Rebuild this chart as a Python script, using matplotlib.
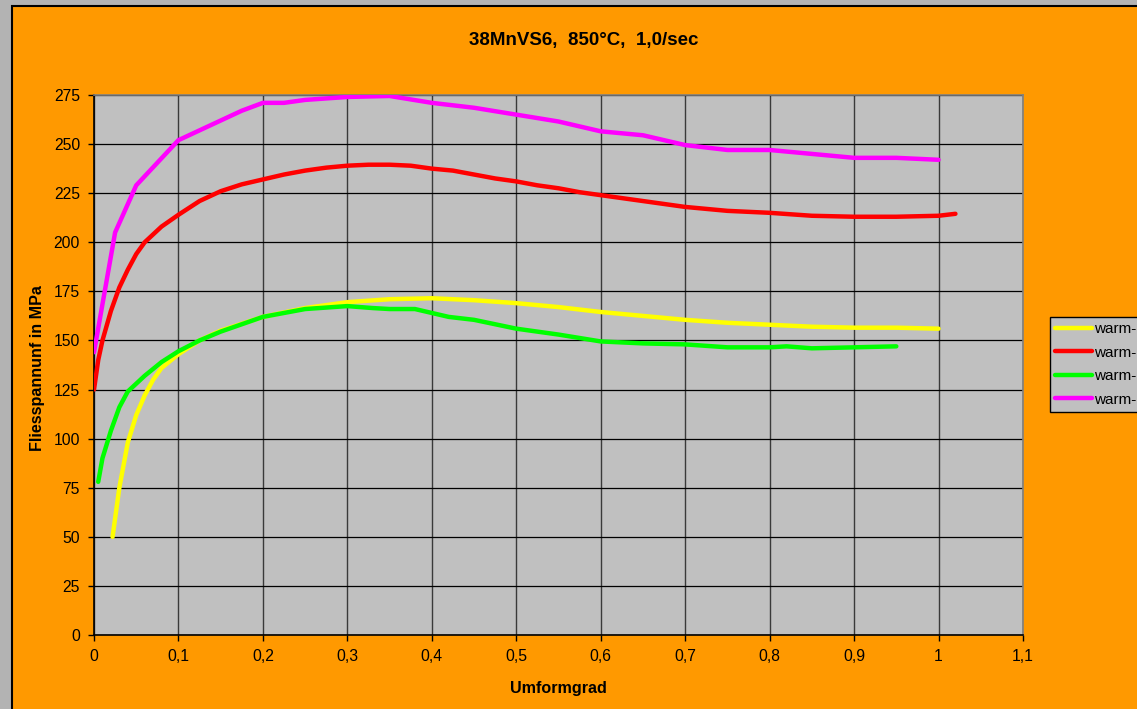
import matplotlib
matplotlib.use("Agg")
import matplotlib.pyplot as plt
from matplotlib.patches import Rectangle
from matplotlib.ticker import FuncFormatter, MultipleLocator

plt.rcParams['font.family'] = ['Liberation Sans', 'DejaVu Sans']

# Flow curves (Umformgrad vs. Fliessspannung in MPa)
yellow_x = [0.022, 0.03, 0.04, 0.05, 0.06, 0.07, 0.08, 0.1, 0.125, 0.15, 0.2, 0.25, 0.3,
            0.35, 0.4, 0.45, 0.5, 0.55, 0.6, 0.65, 0.7, 0.75, 0.8, 0.85, 0.9, 0.95, 1.0]
yellow_y = [50, 75, 98, 112, 122, 130, 136, 143, 150, 155, 162, 166.5, 169.5,
            171, 171.5, 170.5, 169, 167, 164.5, 162.5, 160.5, 159, 158, 157, 156.5, 156.5, 156]

red_x = [0.0, 0.005, 0.01, 0.02, 0.03, 0.04, 0.05, 0.06, 0.07, 0.08, 0.1, 0.125, 0.15,
         0.175, 0.2, 0.225, 0.25, 0.275, 0.3, 0.325, 0.35, 0.375, 0.4, 0.425, 0.45,
         0.475, 0.5, 0.525, 0.55, 0.575, 0.6, 0.65, 0.7, 0.75, 0.8, 0.85, 0.9, 0.95,
         1.0, 1.02]
red_y = [125, 140, 150, 165, 177, 186, 194, 200, 204, 208, 214, 221, 226,
         229.5, 232, 234.5, 236.5, 238, 239, 239.5, 239.5, 239, 237.5, 236.5, 234.5,
         232.5, 231, 229, 227.5, 225.5, 224, 221, 218, 216, 215, 213.5, 213, 213,
         213.5, 214.5]

green_x = [0.005, 0.01, 0.02, 0.03, 0.04, 0.05, 0.06, 0.08, 0.1, 0.125, 0.15, 0.2, 0.25,
           0.3, 0.33, 0.35, 0.38, 0.4, 0.42, 0.45, 0.5, 0.55, 0.6, 0.65, 0.7, 0.75,
           0.8, 0.82, 0.85, 0.9, 0.95]
green_y = [78, 90, 104, 116, 124, 128, 132, 139, 144.5, 150, 154.5, 162, 166,
           167.5, 166.5, 166, 166, 164, 162, 160.5, 156, 153, 149.5, 148.5, 148, 146.5,
           146.5, 147, 146, 146.5, 147]

magenta_x = [0.0, 0.025, 0.05, 0.1, 0.125, 0.15, 0.175, 0.2, 0.225, 0.25, 0.3, 0.35,
             0.4, 0.45, 0.5, 0.55, 0.6, 0.65, 0.7, 0.75, 0.8, 0.85, 0.9, 0.95, 1.0]
magenta_y = [144, 205, 229, 252, 257, 262, 267, 271, 271, 272.5, 274, 274.5,
             271, 268.5, 265, 261.5, 256.5, 254.5, 249.5, 247, 247, 245, 243, 243, 242]

labels = ["warm-", "warm-", "warm-", "warm-"]
colors = ["#FFFF00", "#FF0000", "#00FF00", "#FF00FF"]

fig = plt.figure(figsize=(11.37, 7.09), dpi=100)
fig.patch.set_facecolor("#B3B3B3")

# orange chart area with dark border on top/left
fig.add_artist(Rectangle((11.5 / 1137, -0.01), 1.05, 1 - 5.5 / 709 + 0.01,
                         transform=fig.transFigure, facecolor="#FF9900",
                         edgecolor="black", linewidth=1.5, zorder=-10))

ax = fig.add_axes([94 / 1137, 1 - 635 / 709, (1023 - 94) / 1137, (635 - 95) / 709])
ax.set_facecolor("#C0C0C0")

series = [(yellow_x, yellow_y), (red_x, red_y), (green_x, green_y), (magenta_x, magenta_y)]
for (xs, ys), c, lab in zip(series, colors, labels):
    ax.plot(xs, ys, color=c, linewidth=3.2, label=lab, solid_capstyle="round", zorder=3)

ax.set_xlim(0, 1.1)
ax.set_ylim(0, 275)
ax.xaxis.set_major_locator(MultipleLocator(0.1))
ax.yaxis.set_major_locator(MultipleLocator(25))
ax.xaxis.set_major_formatter(FuncFormatter(
    lambda v, p: "0" if abs(v) < 1e-9 else ("1" if abs(v - 1) < 1e-9 else f"{v:.1f}".replace(".", ","))))
ax.xaxis.grid(True, color="#3A3A3A", linewidth=1.0, zorder=1)
ax.yaxis.grid(True, color="black", linewidth=0.9, zorder=1)
ax.set_axisbelow(True)
ax.tick_params(direction="out", length=4, width=1, labelsize=11.3, colors="black", pad=6)

for s in ("left", "bottom"):
    ax.spines[s].set_color("black")
    ax.spines[s].set_linewidth(1.2)
for s in ("top", "right"):
    ax.spines[s].set_color("#808080")
    ax.spines[s].set_linewidth(1.2)

fig.text(584 / 1137, 1 - 40 / 709, "38MnVS6,  850°C,  1,0/sec", ha="center", va="center",
         fontsize=13.5, fontweight="bold")
fig.text(558 / 1137, 1 - 688 / 709, "Umformgrad", ha="center", va="center",
         fontsize=11.6, fontweight="bold")
fig.text(38 / 1137, 1 - 368 / 709, "Fliesspannunf in MPa", ha="center", va="center",
         rotation=90, fontsize=11.6, fontweight="bold")

leg = ax.legend(loc="upper left", bbox_to_anchor=(1050 / 1137, 1 - 317 / 709),
                bbox_transform=fig.transFigure, frameon=True, fancybox=False,
                fontsize=11, handlelength=2.4, handletextpad=0.12, labelspacing=0.62,
                borderpad=0.35, borderaxespad=0)
leg.get_frame().set_facecolor("#C0C0C0")
leg.get_frame().set_edgecolor("black")
leg.get_frame().set_linewidth(1)
leg.get_frame().set_alpha(1)

fig.savefig("out.png", dpi=100, facecolor=fig.get_facecolor())
